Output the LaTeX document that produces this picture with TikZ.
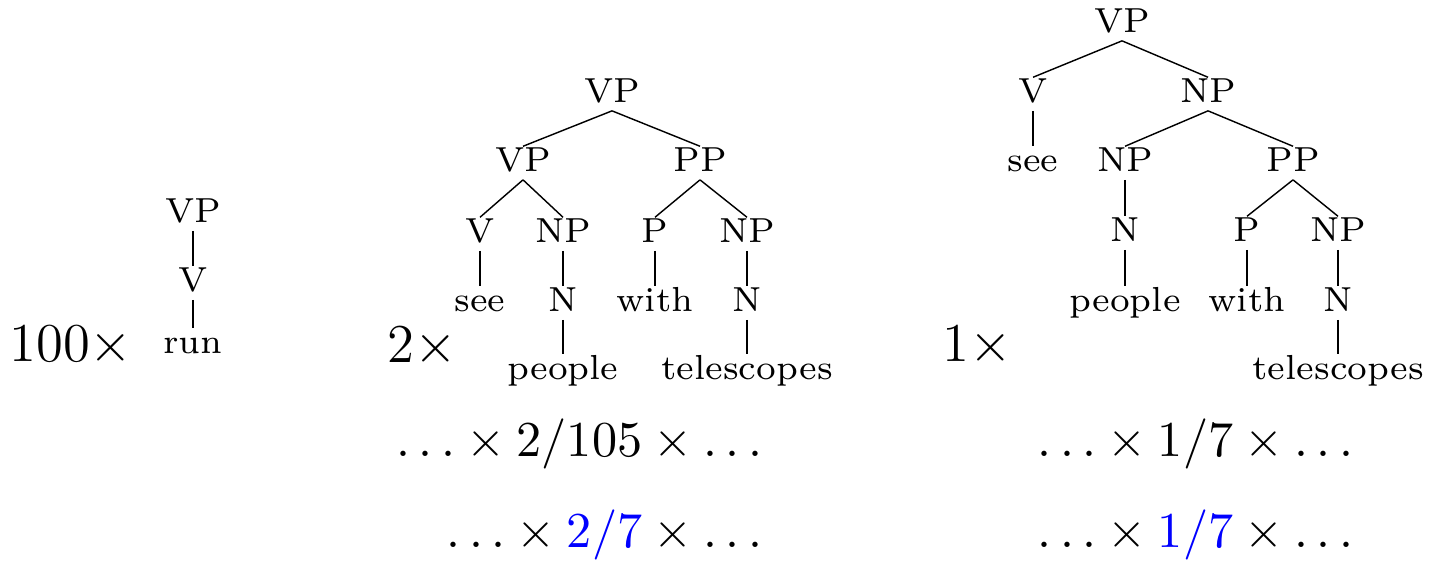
\documentclass[tikz,border=0pt]{standalone}
\usepackage{fix-cm}
\usepackage{xcolor}
\usepackage{tikz}

\begin{document}
\begin{tikzpicture}[x=0.21pt, y=-0.21pt, line width=0.3pt,
    cat/.style={anchor=base, inner sep=1.5pt, text height=3.75pt, text depth=0pt, font=\fontsize{7.3}{8.8}\selectfont},
    count/.style={anchor=base, inner sep=0pt, font=\fontsize{11.5}{13.8}\selectfont},
    prob/.style={anchor=base east, inner sep=0pt, font=\fontsize{10.55}{12.7}\selectfont}]
    \useasboundingbox (0,0) rectangle (1435,562);

    % Tree 1 (Left)
    \node (aVP) [cat] at (193,223) {VP};
    \node (aV) [cat] at (193,292) {V};
    \node (arun) [cat] at (193,354) {run};
    \node (acount) [count] at (71,362) {100$\times$};

    \draw (aVP.south) -- (aV.north);
    \draw (aV.south) -- (arun.north);

    % Tree 2 (Middle)
    \node (bVP) [cat] at (612,103) {VP};
    \node (bVPl) [cat] at (523,172) {VP};
    \node (bPP) [cat] at (700,172) {PP};
    \node (bV) [cat] at (480,243) {V};
    \node (bNPl) [cat] at (563,243) {NP};
    \node (bP) [cat] at (655,243) {P};
    \node (bNPr) [cat] at (747,243) {NP};
    \node (bsee) [cat] at (480,312) {see};
    \node (bNl) [cat] at (563,312) {N};
    \node (bwith) [cat] at (655,312) {with};
    \node (bNr) [cat] at (747,312) {N};
    \node (bpeople) [cat] at (563,380) {people};
    \node (btele) [cat] at (747,380) {telescopes};
    \node (bcount) [count] at (422,363) {2$\times$};

    \draw (bVP.south) -- (bVPl.north);
    \draw (bVP.south) -- (bPP.north);
    \draw (bVPl.south) -- (bV.north);
    \draw (bVPl.south) -- (bNPl.north);
    \draw (bPP.south) -- (bP.north);
    \draw (bPP.south) -- (bNPr.north);
    \draw (bV.south) -- (bsee.north);
    \draw (bNPl.south) -- (bNl.north);
    \draw (bP.south) -- (bwith.north);
    \draw (bNPr.south) -- (bNr.north);
    \draw (bNl.south) -- (bpeople.north);
    \draw (bNr.south) -- (btele.north);

    \node (bprob) [prob] at (763,457) {$\ldots\times 2/105\times\ldots$};
    \node (bnorm) [prob] at (763,548) {$\ldots\times {\color{blue}2/7}\times\ldots$};

    % Tree 3 (Right)
    \node (cVP) [cat] at (1122,33) {VP};
    \node (cV) [cat] at (1033,103) {V};
    \node (cNP) [cat] at (1208,103) {NP};
    \node (csee) [cat] at (1033,172) {see};
    \node (cNPl) [cat] at (1125,172) {NP};
    \node (cPP) [cat] at (1293,172) {PP};
    \node (cN) [cat] at (1125,242) {N};
    \node (cP) [cat] at (1247,242) {P};
    \node (cNPr) [cat] at (1338,242) {NP};
    \node (cpeople) [cat] at (1125,312) {people};
    \node (cwith) [cat] at (1247,312) {with};
    \node (cNr) [cat] at (1338,312) {N};
    \node (ctele) [cat] at (1338,380) {telescopes};
    \node (ccount) [count] at (977,362) {1$\times$};

    \draw (cVP.south) -- (cV.north);
    \draw (cVP.south) -- (cNP.north);
    \draw (cV.south) -- (csee.north);
    \draw (cNP.south) -- (cNPl.north);
    \draw (cNP.south) -- (cPP.north);
    \draw (cNPl.south) -- (cN.north);
    \draw (cPP.south) -- (cP.north);
    \draw (cPP.south) -- (cNPr.north);
    \draw (cN.south) -- (cpeople.north);
    \draw (cP.south) -- (cwith.north);
    \draw (cNPr.south) -- (cNr.north);
    \draw (cNr.south) -- (ctele.north);

    \node (cprob) [prob] at (1354,457) {$\ldots\times 1/7\times\ldots$};
    \node (cnorm) [prob] at (1354,548) {$\ldots\times {\color{blue}1/7}\times\ldots$};
\end{tikzpicture}
\end{document}
